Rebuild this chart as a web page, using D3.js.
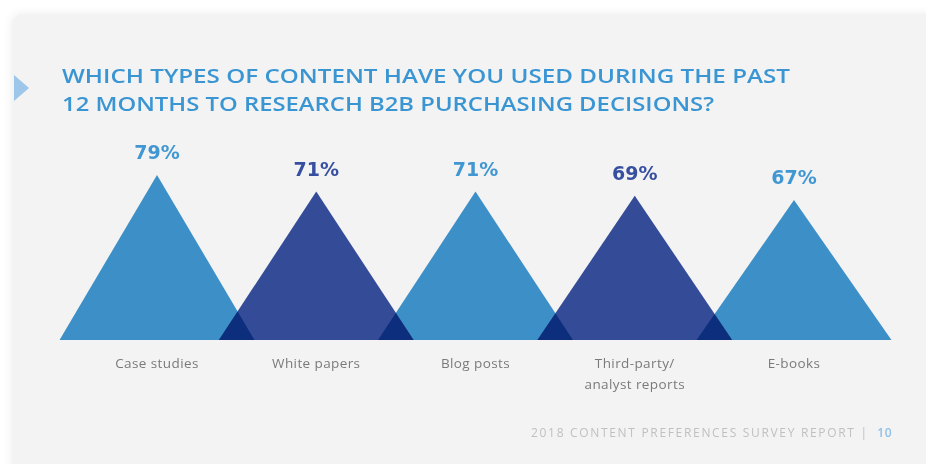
<!DOCTYPE html>
<html>
<head>
<meta charset="utf-8">
<script src="https://cdn.jsdelivr.net/npm/d3@7"></script>
<style>
  html, body { margin: 0; padding: 0; background: #ffffff; }
  svg { display: block; }
  .tri { mix-blend-mode: multiply; }
</style>
</head>
<body>
<svg id="chart" width="926" height="464"></svg>
<script>
// Survey results: share of respondents using each content type
const categories = ["Case studies", "White papers", "Blog posts", "Third-party/\nanalyst reports", "E-books"];
const values = [79, 71, 71, 69, 67];
const valueLabels = ["79%", "71%", "71%", "69%", "67%"];
const titleLines = [
  "WHICH TYPES OF CONTENT HAVE YOU USED DURING THE PAST",
  "12 MONTHS TO RESEARCH B2B PURCHASING DECISIONS?"
];
const footerText = "2018 CONTENT PREFERENCES SURVEY REPORT |";
const pageNumber = "10";

const W = 926, H = 464;
const LIGHT = "#4097d1", DARK = "#364fa0";
const svg = d3.select("#chart");

// card background with soft shadow
const defs = svg.append("defs");
const f = defs.append("filter").attr("id", "shadow")
  .attr("x", "-5%").attr("y", "-5%").attr("width", "110%").attr("height", "110%");
f.append("feDropShadow").attr("dx", 0).attr("dy", 0).attr("stdDeviation", 5)
  .attr("flood-color", "#000").attr("flood-opacity", 0.09);

svg.append("rect").attr("width", W).attr("height", H).attr("fill", "#ffffff");
svg.append("rect")
  .attr("x", 13).attr("y", 15).attr("width", W + 20).attr("height", H + 20)
  .attr("rx", 6).attr("fill", "#f3f3f3").attr("filter", "url(#shadow)");

// side marker
svg.append("path")
  .attr("d", d3.line()([[14, 75], [29, 88], [14, 101]]) + "Z")
  .attr("fill", "#9cc6ea");

// title
const titleWidths = [728, 652];
svg.selectAll("text.title").data(titleLines).join("text")
  .attr("class", "title")
  .attr("x", 62)
  .attr("y", (d, i) => 83 + i * 28)
  .attr("textLength", (d, i) => titleWidths[i])
  .attr("lengthAdjust", "spacingAndGlyphs")
  .attr("font-family", "'Open Sans', Lato, sans-serif")
  .attr("font-weight", 600)
  .attr("font-size", 20.5)
  .attr("fill", "#3a95d3")
  .text(d => d);

// scales
const x = d3.scalePoint().domain(categories).range([157, 794]);
const y = d3.scaleLinear().domain([0, 100]).range([340, 131]);
const halfBase = x.step() * 0.612;

const data = categories.map((c, i) => ({ c, v: values[i], label: valueLabels[i], i }));
const colorOf = d => d.i % 2 === 0 ? LIGHT : DARK;

// triangles
svg.append("g").selectAll("path").data(data).join("path")
  .attr("class", "tri")
  .attr("d", d => {
    const cx = x(d.c);
    return d3.line()([[cx - halfBase, y(0)], [cx, y(d.v)], [cx + halfBase, y(0)]]) + "Z";
  })
  .attr("fill", colorOf);

// value labels
svg.append("g").selectAll("text").data(data).join("text")
  .attr("x", d => x(d.c))
  .attr("y", d => y(d.v) - 16)
  .attr("text-anchor", "middle")
  .attr("font-family", "'DejaVu Sans', sans-serif")
  .attr("font-weight", 700)
  .attr("font-size", 19)
  .attr("fill", colorOf)
  .text(d => d.label);

// category labels
const cat = svg.append("g").selectAll("text").data(data).join("text")
  .attr("x", d => x(d.c))
  .attr("y", 368)
  .attr("text-anchor", "middle")
  .attr("font-family", "'Open Sans', sans-serif")
  .attr("font-size", 13.5)
  .attr("letter-spacing", 0.4)
  .attr("fill", "#7a7a7a");
cat.selectAll("tspan").data(d => d.c.split("\n").map(t => ({ t, cx: x(d.c) }))).join("tspan")
  .attr("x", d => d.cx)
  .attr("dy", (d, i) => i === 0 ? 0 : 21)
  .text(d => d.t);

// footer
svg.append("text")
  .attr("x", 531).attr("y", 437)
  .attr("textLength", 336)
  .attr("lengthAdjust", "spacing")
  .attr("font-family", "'Open Sans', sans-serif")
  .attr("font-size", 12)
  .attr("fill", "#c0c0c0")
  .text(footerText);
svg.append("text")
  .attr("x", 892).attr("y", 437)
  .attr("text-anchor", "end")
  .attr("font-family", "'Open Sans', sans-serif")
  .attr("font-weight", 600)
  .attr("font-size", 12)
  .attr("letter-spacing", 0.5)
  .attr("fill", "#8fc0e8")
  .text(pageNumber);
</script>
</body>
</html>
